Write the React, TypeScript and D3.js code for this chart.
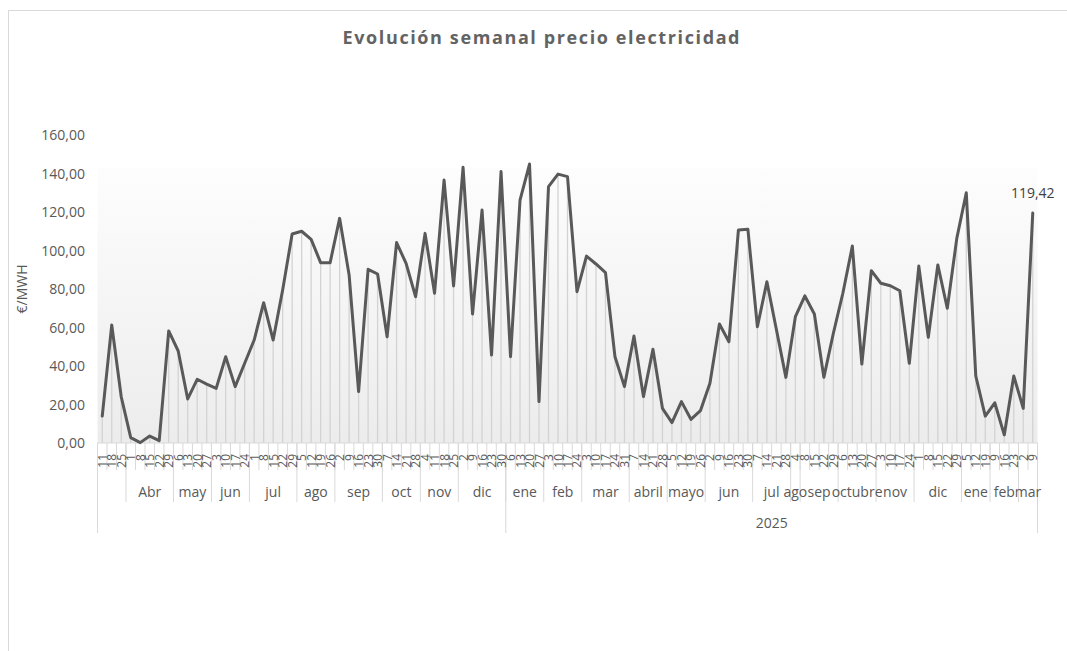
import React from "react";
import * as d3 from "d3";

const VALUES: number[] = [
  14.0, 61.3, 24.0, 2.8, 0.2, 3.6, 1.2, 58.2, 47.8, 22.9,
  33.1, 30.6, 28.4, 44.8, 29.3, 41.4, 53.5, 72.9, 53.5, 79.5,
  108.6, 110.0, 105.8, 93.7, 93.7, 116.7, 87.3, 26.7, 90.2, 87.8,
  55.2, 104.1, 93.3, 76.0, 108.9, 77.8, 136.6, 81.6, 143.2, 67.0,
  121.0, 45.7, 141.0, 44.8, 126.2, 144.9, 21.5, 133.2, 139.7, 138.4,
  78.6, 97.1, 93.0, 88.5, 44.8, 29.3, 55.6, 24.1, 48.7, 18.0,
  10.6, 21.5, 12.3, 16.8, 31.0, 61.8, 52.6, 110.6, 111.0, 60.4,
  83.8, 59.0, 34.1, 65.6, 76.4, 67.0, 34.1, 57.0, 77.8, 102.3,
  41.0, 89.5, 83.0, 81.7, 79.1, 41.4, 91.9, 54.9, 92.5, 70.0,
  106.3, 130.0, 34.8, 14.0, 20.9, 4.2, 34.8, 18.0, 119.42,
];

const DAYS: string[] = [
  "11", "18", "25", "1", "8", "15", "22", "29", "6", "13", "20", "27",
  "3", "10", "17", "24", "1", "8", "15", "22", "29", "5", "12", "19", "26",
  "2", "9", "16", "23", "30", "7", "14", "21", "28", "4", "11", "18", "25",
  "2", "9", "16", "23", "30",
  "6", "13", "20", "27", "3", "10", "17", "24", "3", "10", "17", "24", "31",
  "7", "14", "21", "28", "5", "12", "19", "26", "2", "9", "16", "23", "30",
  "7", "14", "21", "28", "4", "8", "15", "22", "29", "6", "13", "20", "27",
  "3", "10", "17", "24", "1", "8", "15", "22", "29", "5", "12", "19",
  "9", "16", "23", "2", "9",
];

const MONTH_LABELS: string[] = [
  "", "Abr", "may", "jun", "jul", "ago", "sep", "oct", "nov", "dic",
  "ene", "feb", "mar", "abril", "mayo", "jun", "jul", "ago", "sep", "octubre", "nov", "dic", "ene", "feb", "mar",
];
const MONTH_COUNTS: number[] = [
  3, 5, 4, 4, 5, 4, 5, 4, 4, 5,
  4, 4, 5, 4, 4, 5, 4, 1, 4, 4, 4, 5, 3, 3, 2,
];

const YEAR_LABELS: string[] = ["", "2025"];
const YEAR_COUNTS: number[] = [43, 56];

const Y_TICKS: number[] = [0, 20, 40, 60, 80, 100, 120, 140, 160];

const TITLE = "Evolución semanal precio electricidad";
const Y_TITLE = "€/MWH";

const FONT = "'Open Sans', 'Noto Sans', sans-serif";
const TXT = "#595959";
const GRID = "#d9d9d9";

function groups(counts: number[]) {
  const out: { start: number; end: number }[] = [];
  let s = 0;
  counts.forEach((c) => {
    out.push({ start: s, end: s + c });
    s += c;
  });
  return out;
}

export default function App() {
  const W = 1067;
  const H = 651;
  const left = 97.5;
  const right = 1037.5;
  const top = 135;
  const bottom = 443;

  const idx = VALUES.map((_, i) => i);
  const x = d3.scaleBand<number>().domain(idx).range([left, right]).padding(0);
  const bw = x.bandwidth();
  const cx = (i: number) => (x(i) as number) + bw / 2;
  const edge = (k: number) => left + k * bw;
  const y = d3.scaleLinear().domain([0, 160]).range([bottom, top]);

  const line = d3
    .line<number>()
    .x((_, i) => cx(i))
    .y((d) => y(d));

  const fmt = (v: number) => d3.format(".2f")(v).replace(".", ",");

  const monthG = groups(MONTH_COUNTS);
  const yearG = groups(YEAR_COUNTS);
  const last = VALUES.length - 1;

  return (
    <div style={{ position: "absolute", left: 0, top: 0 }}>
      <svg width={W} height={H} style={{ display: "block" }}>
        <defs>
          <linearGradient id="bg" x1="0" y1="0" x2="0" y2="1">
            <stop offset="0" stopColor="#fdfdfd" />
            <stop offset="1" stopColor="#ececec" />
          </linearGradient>
        </defs>
        <rect x={0} y={0} width={W} height={H} fill="#fff" />
        <rect x={8.5} y={10.5} width={1075} height={700} fill="#fff" stroke={GRID} strokeWidth={1} />

        <text
          x={541}
          y={44}
          textAnchor="middle"
          fontFamily={FONT}
          fontWeight={700}
          fontSize={18}
          fill="#636363"
          textLength={397}
          lengthAdjust="spacing"
        >
          {TITLE}
        </text>

        {/* plot background */}
        <rect x={left} y={168} width={right - left} height={bottom - 168} fill="url(#bg)" />

        {/* drop lines */}
        {VALUES.map((v, i) => (
          <line key={"d" + i} x1={cx(i)} x2={cx(i)} y1={y(v)} y2={bottom} stroke="#d3d3d3" strokeWidth={1.3} />
        ))}

        {/* axis line */}
        <line x1={left} x2={right} y1={bottom} y2={bottom} stroke={GRID} strokeWidth={1} />

        {/* category separators */}
        {d3.range(VALUES.length + 1).map((k) => (
          <line key={"s" + k} x1={edge(k)} x2={edge(k)} y1={bottom} y2={470} stroke={GRID} strokeWidth={1} />
        ))}
        {monthG.map((g, j) => (
          <line key={"m" + j} x1={edge(g.start)} x2={edge(g.start)} y1={bottom} y2={502} stroke={GRID} strokeWidth={1} />
        ))}
        <line x1={edge(VALUES.length)} x2={edge(VALUES.length)} y1={bottom} y2={533} stroke={GRID} strokeWidth={1} />
        {yearG.map((g, j) => (
          <line key={"yr" + j} x1={edge(g.start)} x2={edge(g.start)} y1={bottom} y2={533} stroke={GRID} strokeWidth={1} />
        ))}

        {/* day labels */}
        {DAYS.map((d, i) => (
          <text
            key={"t" + i}
            transform={`translate(${cx(i) + 4.5},454) rotate(-90)`}
            textAnchor="end"
            fontFamily={FONT}
            fontSize={12}
            fill={TXT}
          >
            {d}
          </text>
        ))}

        {/* month labels */}
        {monthG.map((g, j) => (
          <text
            key={"ml" + j}
            x={(edge(g.start) + edge(g.end)) / 2}
            y={497}
            textAnchor="middle"
            fontFamily={FONT}
            fontSize={14}
            fill={TXT}
          >
            {MONTH_LABELS[j]}
          </text>
        ))}

        {/* year labels */}
        {yearG.map((g, j) => (
          <text
            key={"yl" + j}
            x={(edge(g.start) + edge(g.end)) / 2}
            y={528}
            textAnchor="middle"
            fontFamily={FONT}
            fontSize={14}
            fill={TXT}
          >
            {YEAR_LABELS[j]}
          </text>
        ))}

        {/* y ticks */}
        {Y_TICKS.map((t) => (
          <text
            key={"y" + t}
            x={85}
            y={y(t) + 5}
            textAnchor="end"
            fontFamily={FONT}
            fontSize={14}
            fill={TXT}
          >
            {fmt(t)}
          </text>
        ))}

        <text
          transform={`translate(27,289) rotate(-90)`}
          textAnchor="middle"
          fontFamily={FONT}
          fontSize={14}
          fill={TXT}
        >
          {Y_TITLE}
        </text>

        {/* line */}
        <path
          d={line(VALUES) || ""}
          fill="none"
          stroke="#595959"
          strokeWidth={3}
          strokeLinejoin="round"
          strokeLinecap="round"
        />

        <text x={cx(last)} y={198} textAnchor="middle" fontFamily={FONT} fontSize={14} fill="#404040">
          {fmt(VALUES[last])}
        </text>
      </svg>
    </div>
  );
}
